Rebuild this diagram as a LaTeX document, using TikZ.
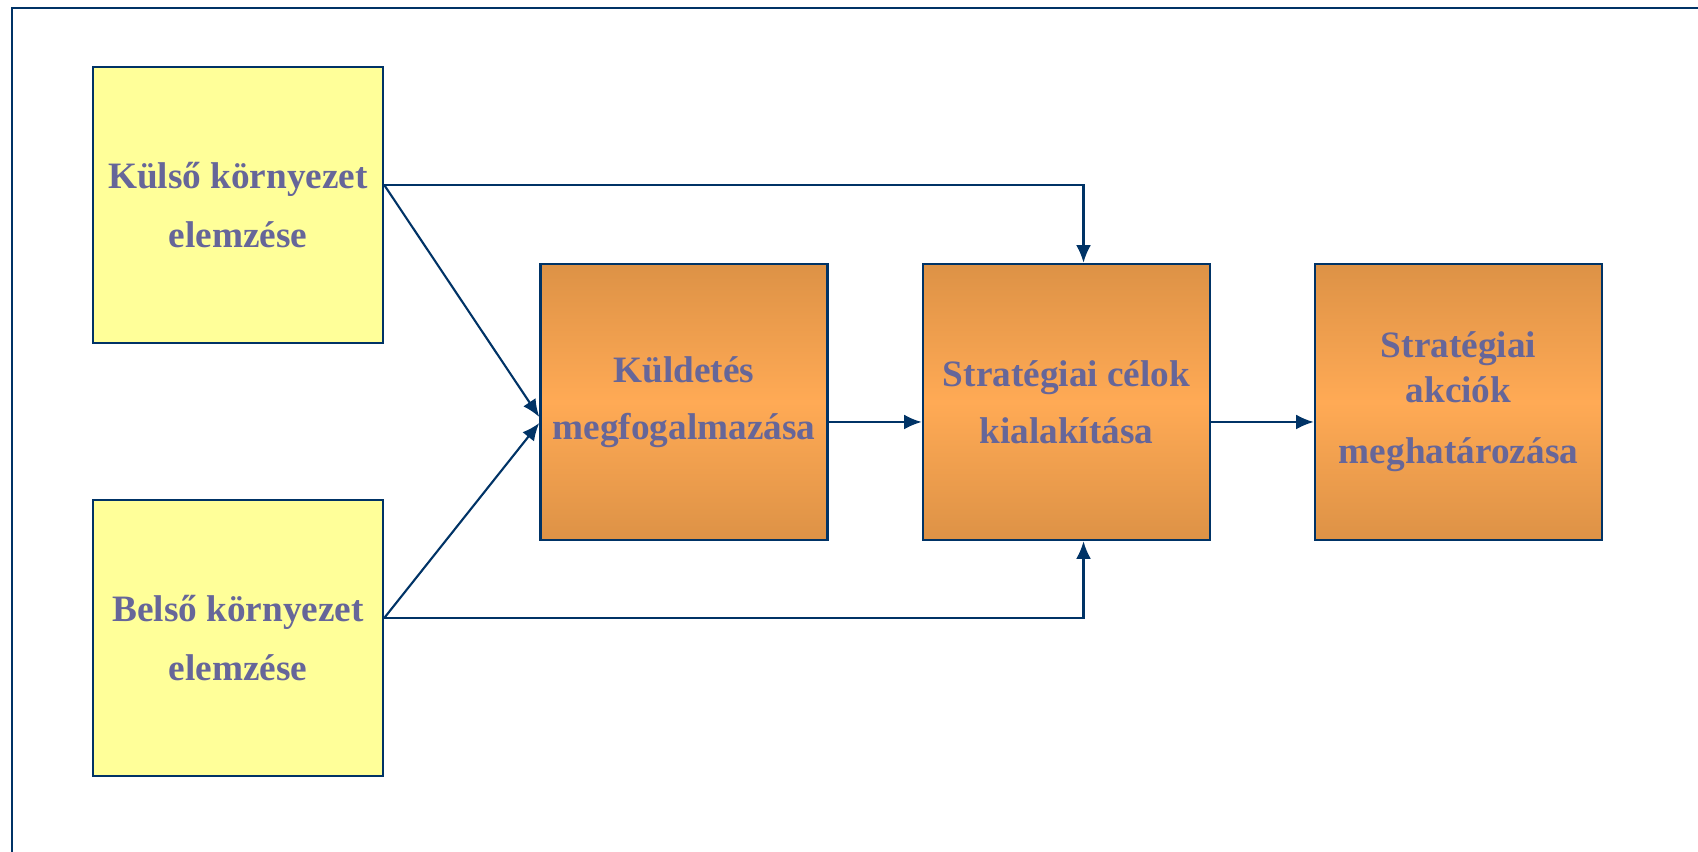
\documentclass[tikz,border=0pt]{standalone}
\usepackage{fontspec}
\setmainfont{Liberation Serif}
\usepackage{tikz}
\usetikzlibrary{calc}
\usetikzlibrary{arrows.meta}
\definecolor{keret}{HTML}{003366}
\definecolor{szoveg}{HTML}{666699}
\definecolor{sarga}{HTML}{FFFF99}
\definecolor{narancsS}{HTML}{DD9246}
\definecolor{narancsV}{HTML}{FFAA55}

\begin{document}
\begin{tikzpicture}[
    doboz/.style={draw=keret, line width=0.7pt, minimum height=2.76cm, inner sep=0pt,
        align=center, text=szoveg, font=\fontsize{10.6}{12.7}\selectfont\bfseries},
    elemzes/.style={doboz, fill=sarga, minimum width=2.9cm},
    lepes/.style={doboz, minimum width=2.87cm, top color=narancsS, bottom color=narancsS, middle color=narancsV},
    nyil/.style={draw=keret, line width=0.6pt, -{Latex[length=5pt,width=4.2pt]}}
  ]
                \useasboundingbox (0,0) rectangle (16.98,8.52);
                % keret
                \draw[keret, line width=0.8pt] (0.12,-0.1) |- (17.2,8.44);

                % környezet elemzése
                \node[elemzes] (kulso) at (2.38,6.47) {Külső környezet\\[4.3pt]elemzése};
                \node[elemzes] (belso) at (2.38,2.14) {Belső környezet\\[4.3pt]elemzése};

                % lépések
                \node[lepes] (kuldetes) at (6.84,4.50) {Küldetés\\[3.5pt]megfogalmazása};
                \node[lepes] (celok) at (10.665,4.50) {Stratégiai célok\\[3.5pt]kialakítása};
                \node[lepes] (akciok) at (14.585,4.50) {Stratégiai\\akciók\\[4.7pt]meghatározása};

                % nyilak
                \draw[nyil] ($(kulso.east)+(0,0.2)$) -- ($(kuldetes.west)+(0,-0.15)$);
                \draw[nyil] ($(belso.east)+(0,0.2)$) -- ($(kuldetes.west)+(0,-0.21)$);
                \draw[nyil] ($(kulso.east)+(0,0.2)$) -| ($(celok.north)+(0.17,0)$);
                \draw[nyil] ($(belso.east)+(0,0.2)$) -| ($(celok.south)+(0.17,0)$);
                \draw[nyil] ($(kuldetes.east)+(0,-0.2)$) -- ($(celok.west)+(0,-0.2)$);
                \draw[nyil] ($(celok.east)+(0,-0.2)$) -- ($(akciok.west)+(0,-0.2)$);
\end{tikzpicture}
\end{document}
